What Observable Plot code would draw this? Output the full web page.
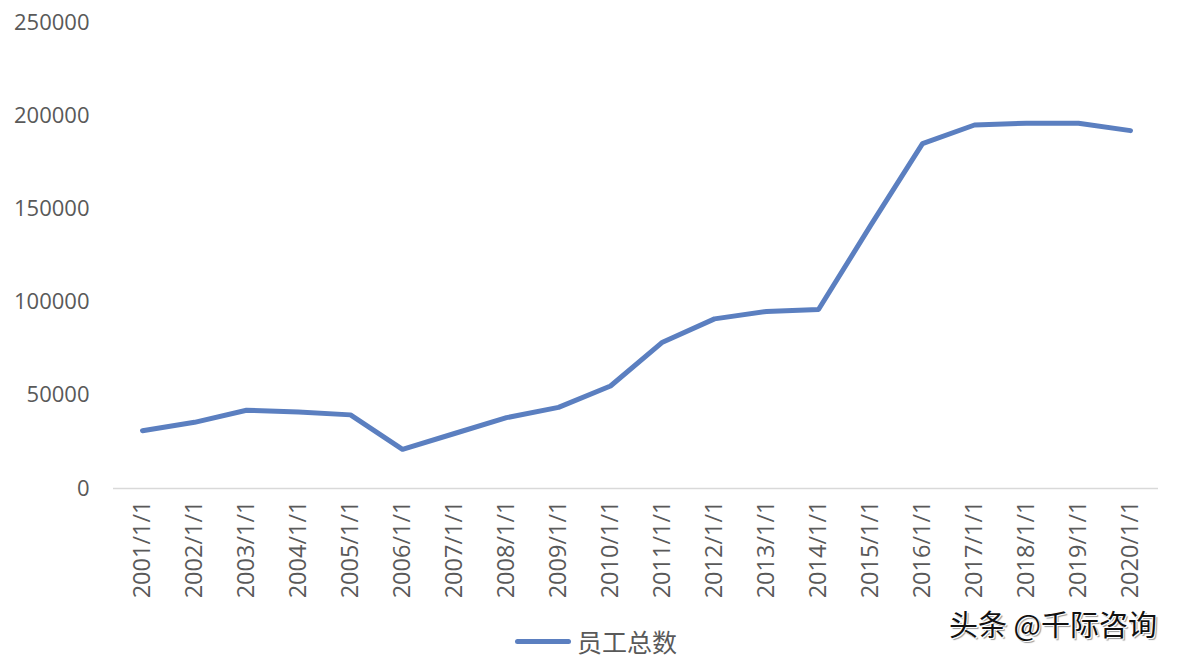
<!DOCTYPE html>
<html>
<head>
<meta charset="utf-8">
<script src="https://cdn.jsdelivr.net/npm/d3@7"></script>
<script src="https://cdn.jsdelivr.net/npm/@observablehq/plot@0.6"></script>
<style>
  html, body { margin: 0; padding: 0; background: #fff; }
  #wrap { position: relative; width: 1184px; height: 660px; overflow: hidden; font-family: "Open Sans", "Noto Sans CJK SC", sans-serif; }
  #legend { position: absolute; left: 515px; top: 623px; display: flex; align-items: center; color: #595959; font-family: "Noto Sans CJK SC", sans-serif; font-size: 25px; }
  #legend .sw { width: 56px; height: 5px; background: #5b7fc0; border-radius: 3px; margin-right: 6px; }
  #wm { position: absolute; left: 949px; top: 602px; font-family: "Noto Sans CJK SC", sans-serif; font-size: 29px; color: #111; text-shadow: 1px 1px 0 #fff, -1px -1px 0 #fff, 2px 2px 1px #999; }
</style>
</head>
<body>
<div id="wrap">
  <div id="chart"></div>
  <div id="legend"><span class="sw"></span><span id="legendLabel"></span></div>
  <div id="wm">头条 @千际咨询</div>
</div>
<script>
const dates = ["2001/1/1","2002/1/1","2003/1/1","2004/1/1","2005/1/1","2006/1/1","2007/1/1","2008/1/1","2009/1/1","2010/1/1","2011/1/1","2012/1/1","2013/1/1","2014/1/1","2015/1/1","2016/1/1","2017/1/1","2018/1/1","2019/1/1","2020/1/1"];
const employees = [31000, 35500, 42000, 41000, 39500, 21000, 29500, 38000, 43500, 55000, 78500, 91000, 95000, 96000, 141000, 185000, 195000, 196000, 196000, 192000];
const seriesName = "员工总数";
const yTicks = [0, 50000, 100000, 150000, 200000, 250000];

const data = dates.map((d, i) => ({date: d, value: employees[i]}));
document.getElementById("legendLabel").textContent = seriesName;

const chart = Plot.plot({
  width: 1184,
  height: 620,
  marginLeft: 113,
  marginRight: 26,
  marginTop: 22,
  marginBottom: 132,
  style: {fontFamily: "'Open Sans', sans-serif", fontSize: "22px", color: "#595959", background: "#fff"},
  x: {type: "point", domain: dates, padding: 0.5, label: null},
  y: {domain: [0, 250000], label: null},
  marks: [
    Plot.ruleY([0], {stroke: "#d9d9d9", strokeWidth: 1.5}),
    Plot.axisY({ticks: yTicks, tickSize: 0, tickPadding: 24, tickFormat: d => String(d), label: null, fill: "#595959", fontSize: 22}),
    Plot.axisX({tickSize: 0, tickPadding: 12, tickRotate: -90, label: null, fill: "#595959", fontSize: 23.5}),
    Plot.line(data, {x: "date", y: "value", stroke: "#5b7fc0", strokeWidth: 5, strokeLinejoin: "round", strokeLinecap: "round"})
  ]
});
document.getElementById("chart").appendChild(chart);
</script>
</body>
</html>
